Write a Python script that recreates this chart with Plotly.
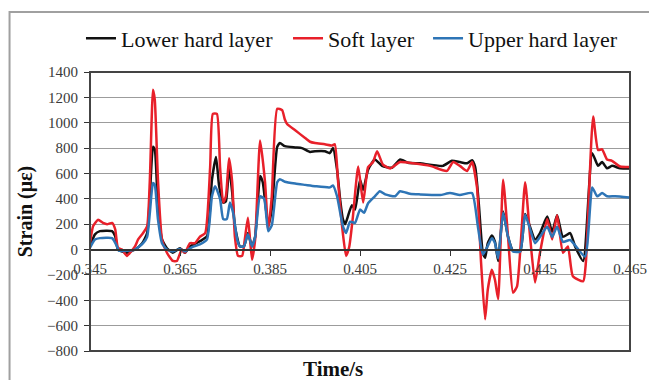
import plotly.graph_objects as go

# ---- data ----
t_lower = [0.3450, 0.3461, 0.3472, 0.3499, 0.3506, 0.3512, 0.3532, 0.3550, 0.3566, 0.3577,
           0.3583, 0.3590, 0.3594, 0.3601, 0.3610, 0.3621, 0.3634, 0.3650, 0.3661, 0.3672,
           0.3694, 0.3710, 0.3721, 0.3730, 0.3737, 0.3746, 0.3752, 0.3759, 0.3766, 0.3772,
           0.3783, 0.3792, 0.3801, 0.3810, 0.3817, 0.3828, 0.3834, 0.3846, 0.3854, 0.3866,
           0.3872, 0.3883, 0.3906, 0.3921, 0.3939, 0.3950, 0.3972, 0.3983, 0.3990, 0.3999,
           0.4006, 0.4012, 0.4017, 0.4023, 0.4032, 0.4039, 0.4050, 0.4057, 0.4068, 0.4083,
           0.4099, 0.4121, 0.4139, 0.4157, 0.4183, 0.4234, 0.4254, 0.4272, 0.4288, 0.4299,
           0.4306, 0.4314, 0.4323, 0.4328, 0.4334, 0.4343, 0.4350, 0.4357, 0.4368, 0.4379,
           0.4390, 0.4406, 0.4417, 0.4439, 0.4450, 0.4466, 0.4477, 0.4488, 0.4501, 0.4517,
           0.4528, 0.4546, 0.4566, 0.4579, 0.4588, 0.4599, 0.4610, 0.4628, 0.4648]
lower_hard = [25, 120, 145, 145, 105, 0, -25, 0, 50, 130,
              420, 810, 790, 340, 80, 10, -25, 10, -25, 25,
              65, 105, 550, 730, 500, 370, 380, 650, 450, 185,
              25, 25, 130, 25, 100, 580, 530, 185, 320, 810,
              840, 815, 805, 800, 770, 775, 775, 760, 800, 630,
              390, 240, 200, 260, 350, 315, 550, 470, 630, 710,
              660, 645, 710, 685, 680, 660, 700, 690, 680, 705,
              650, 360, -30, -65, 50, 110, 60, -90, 300, 100,
              -10, -15, 280, 80, 130, 260, 140, 270, 100, 130,
              25, -90, 760, 660, 690, 640, 660, 640, 640]

t_soft = [0.3450, 0.3457, 0.3468, 0.3479, 0.3488, 0.3499, 0.3506, 0.3512, 0.3521, 0.3532,
          0.3539, 0.3550, 0.3557, 0.3568, 0.3577, 0.3583, 0.3590, 0.3594, 0.3601, 0.3610,
          0.3621, 0.3634, 0.3643, 0.3654, 0.3661, 0.3672, 0.3683, 0.3694, 0.3706, 0.3717,
          0.3723, 0.3732, 0.3739, 0.3746, 0.3752, 0.3759, 0.3766, 0.3772, 0.3779, 0.3788,
          0.3794, 0.3801, 0.3810, 0.3817, 0.3828, 0.3839, 0.3846, 0.3854, 0.3866, 0.3877,
          0.3883, 0.3888, 0.3906, 0.3928, 0.3939, 0.3950, 0.3972, 0.3988, 0.3994, 0.4001,
          0.4010, 0.4019, 0.4026, 0.4034, 0.4046, 0.4057, 0.4068, 0.4079, 0.4088, 0.4101,
          0.4117, 0.4139, 0.4168, 0.4206, 0.4243, 0.4257, 0.4272, 0.4288, 0.4299, 0.4310,
          0.4319, 0.4328, 0.4334, 0.4343, 0.4350, 0.4357, 0.4368, 0.4379, 0.4390, 0.4399,
          0.4417, 0.4428, 0.4439, 0.4450, 0.4466, 0.4477, 0.4488, 0.4501, 0.4512, 0.4523,
          0.4546, 0.4552, 0.4568, 0.4579, 0.4588, 0.4599, 0.4610, 0.4628, 0.4648]
soft = [50, 185, 235, 210, 200, 210, 160, 15, 0, -50,
        -25, 25, 80, 130, 185, 550, 1260, 1180, 550, 80,
        -25, -90, -90, 0, -25, 50, 50, 100, 130, 650,
        1070, 1070, 650, 370, 420, 720, 530, 100, -50, -50,
        80, 250, -80, 80, 860, 530, 160, 420, 1110, 1100,
        1025, 990, 940, 880, 850, 840, 830, 820, 830, 550,
        190, -50, 20, 250, 655, 370, 650, 690, 775, 670,
        640, 690, 680, 660, 620, 690, 660, 620, 690, 490,
        -100, -550, -315, -160, -240, -390, 550, 100, -340, -290,
        530, 100, -260, -25, 240, 80, 270, -25, 25, -210,
        -250, -100, 1050, 785, 790, 710, 700, 655, 650]

t_upper = [0.3450, 0.3461, 0.3472, 0.3499, 0.3510, 0.3514, 0.3532, 0.3550, 0.3568, 0.3577,
           0.3583, 0.3590, 0.3594, 0.3601, 0.3610, 0.3621, 0.3634, 0.3650, 0.3661, 0.3677,
           0.3694, 0.3710, 0.3721, 0.3728, 0.3739, 0.3746, 0.3754, 0.3761, 0.3768, 0.3777,
           0.3783, 0.3792, 0.3801, 0.3810, 0.3817, 0.3828, 0.3837, 0.3846, 0.3854, 0.3866,
           0.3872, 0.3883, 0.3906, 0.3928, 0.3950, 0.3983, 0.3990, 0.3999, 0.4006, 0.4012,
           0.4019, 0.4028, 0.4039, 0.4050, 0.4059, 0.4068, 0.4083, 0.4094, 0.4106, 0.4128,
           0.4139, 0.4161, 0.4183, 0.4228, 0.4250, 0.4272, 0.4299, 0.4312, 0.4323, 0.4334,
           0.4343, 0.4350, 0.4357, 0.4368, 0.4379, 0.4390, 0.4406, 0.4417, 0.4439, 0.4450,
           0.4466, 0.4477, 0.4488, 0.4501, 0.4517, 0.4550, 0.4566, 0.4577, 0.4588, 0.4599,
           0.4617, 0.4648]
upper_hard = [15, 80, 90, 90, 25, -10, -10, 0, 50, 100,
              290, 525, 510, 240, 50, 0, -15, 5, -15, 20,
              40, 80, 420, 500, 400, 240, 240, 370, 290, 80,
              25, 25, 120, 25, 100, 420, 400, 145, 190, 530,
              555, 535, 520, 510, 500, 490, 505, 420, 290, 185,
              130, 220, 210, 315, 290, 365, 420, 460, 435, 420,
              460, 440, 435, 430, 445, 430, 445, 180, -40, 30,
              90, 50, -70, 290, 100, -15, -15, 275, 50, 100,
              180, 100, 180, 60, 75, -55, 490, 420, 445, 420,
              420, 410]

series_names = ["Lower hard layer", "Soft layer", "Upper hard layer"]
series_colors = ["#111111", "#e8202a", "#2e75b6"]

x_ticks = [0.345, 0.365, 0.385, 0.405, 0.425, 0.445, 0.465]
y_ticks = list(range(-800, 1401, 200))

SERIF = "Liberation Serif, Times New Roman, serif"
legend_ids = ["legend", "legend2", "legend3"]
legend_x = [-0.0167, 0.3667, 0.626]

fig = go.Figure()
for t, v, name, col, lid in zip([t_lower, t_soft, t_upper],
                                [lower_hard, soft, upper_hard],
                                series_names, series_colors, legend_ids):
    fig.add_trace(go.Scatter(x=t, y=v, mode="lines", name=name, legend=lid,
                             line=dict(color=col, width=2.5, shape="spline", smoothing=0.5)))

leg_common = dict(orientation="h", xanchor="left", y=1.12, yanchor="middle",
                  font=dict(family=SERIF, size=22, color="#111111"),
                  bgcolor="rgba(0,0,0,0)", itemwidth=30)

# page body has an 8px margin, so the figure is sized to 649x372
fig.update_layout(
    width=649, height=372,
    margin=dict(l=82, r=27, t=64, b=29, autoexpand=False),
    paper_bgcolor="white", plot_bgcolor="white",
    showlegend=True,
    legend=dict(x=legend_x[0], **leg_common),
    legend2=dict(x=legend_x[1], **leg_common),
    legend3=dict(x=legend_x[2], **leg_common),
    xaxis=dict(range=[0.345, 0.465], tickvals=x_ticks, ticktext=[f"{v:.3f}" for v in x_ticks],
               anchor="free", position=800 / 2200,
               showline=True, linecolor="#333333", linewidth=2,
               ticks="outside", ticklen=5, tickcolor="#333333",
               showgrid=False, zeroline=False,
               tickfont=dict(family=SERIF, size=15, color="#3a3a3a")),
    yaxis=dict(range=[-800, 1400], tickvals=y_ticks,
               showline=False, showgrid=True, gridcolor="#9c9c9c", gridwidth=1.4,
               zeroline=False, ticks="outside", ticklen=5, tickcolor="#333333",
               ticklabelstandoff=3,
               tickfont=dict(family=SERIF, size=15, color="#3a3a3a"),
               title=dict(text="<b>Strain (με)</b>", standoff=9,
                          font=dict(family=SERIF, size=20, color="#111111"))),
    shapes=[
        dict(type="rect", xref="paper", yref="paper", x0=0, x1=1, y0=0, y1=1,
             line=dict(color="#444444", width=2), fillcolor="rgba(0,0,0,0)", layer="above"),
        dict(type="rect", xref="paper", yref="paper", x0=-0.149, x1=1.0463, y0=-0.3, y1=1.215,
             line=dict(color="#a0a0a0", width=2), fillcolor="rgba(0,0,0,0)", layer="below"),
    ],
    annotations=[
        dict(text="<b>Time/s</b>", xref="paper", yref="paper", x=0.45, y=0, yshift=-18,
             xanchor="center", yanchor="middle", showarrow=False,
             font=dict(family=SERIF, size=21, color="#111111")),
    ],
)

fig.write_html("out.html")
